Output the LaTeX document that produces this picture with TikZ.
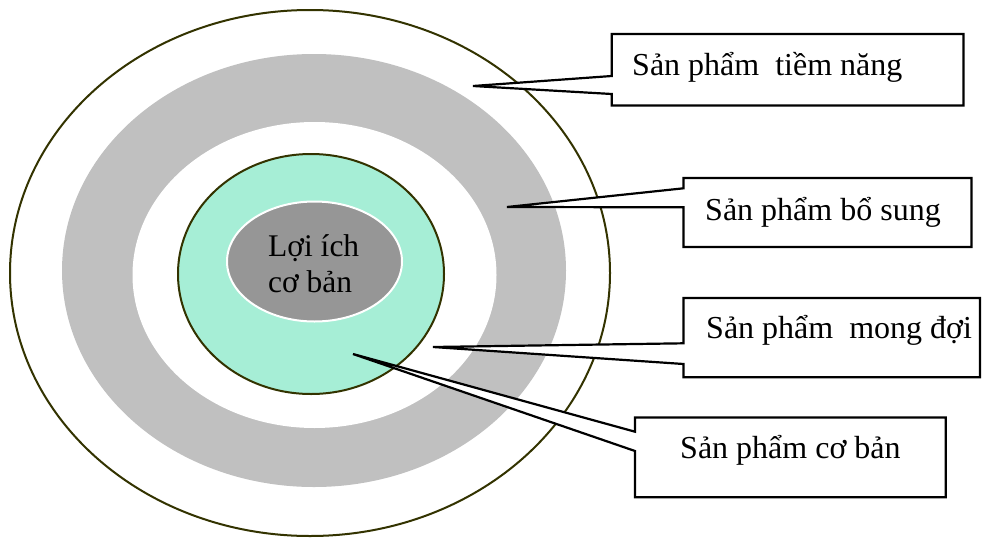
\documentclass[tikz,border=0pt]{standalone}
\usepackage{fontspec}
\setmainfont{Liberation Serif}
\definecolor{ringline}{RGB}{51,51,0}
\definecolor{ringgray}{RGB}{192,192,192}
\definecolor{mint}{RGB}{166,238,214}
\definecolor{coregray}{RGB}{150,150,150}
\begin{document}
\begin{tikzpicture}[x=1pt,y=-1pt,
  ring/.style={draw=ringline,line width=2pt},
  boxgeom/.style={inner sep=0pt,outer sep=0pt,rectangle},
  calloutline/.style={draw=black,fill=white,line width=2.2pt,line join=miter},
  lbl/.style={font=\fontsize{32}{36}\selectfont,inner sep=0pt,anchor=base west},
  corelbl/.style={font=\fontsize{31.5}{36}\selectfont,inner sep=0pt,anchor=base west}]
\useasboundingbox (0,0) rectangle (982,538);
% rings
\draw[ring,fill=white] (310,273) ellipse [x radius=300,y radius=263];
\fill[ringgray] (314,270.5) ellipse [x radius=252,y radius=216.5];
\fill[white] (314.5,275) ellipse [x radius=182,y radius=153];
\draw[ring,fill=mint] (311,274) ellipse [x radius=133,y radius=120];
\draw[draw=white,line width=2pt,fill=coregray] (314.5,261.5) ellipse [x radius=87.5,y radius=60];
\node[corelbl] (core1) at (268,256) {Lợi ích};
\node[corelbl] (core2) at (268,292.7) {cơ bản};
% callout geometry
\node[boxgeom,minimum width=351.8pt,minimum height=71.5pt] (b1) at (787.6,69.75) {};
\node[boxgeom,minimum width=288pt,minimum height=69pt] (b2) at (827.5,212.5) {};
\node[boxgeom,minimum width=296.5pt,minimum height=79.3pt] (b3) at (831.75,337.65) {};
\node[boxgeom,minimum width=310.7pt,minimum height=79.8pt] (b4) at (790.35,457.4) {};
\coordinate (t1) at (473,86);
\coordinate (t2) at (507,207);
\coordinate (t3) at (433,347);
\coordinate (t4) at (353,354);
% callouts
\path[calloutline] (b1.north west) -- (b1.north east) -- (b1.south east) -- (b1.south west)
  -- (b1.west |- 0,94) -- (t1) -- (b1.west |- 0,76) -- cycle;
\path[calloutline] (b2.north west) -- (b2.north east) -- (b2.south east) -- (b2.south west)
  -- (b2.west |- 0,207.3) -- (t2) -- (b2.west |- 0,188.3) -- cycle;
\path[calloutline] (b3.north west) -- (b3.north east) -- (b3.south east) -- (b3.south west)
  -- (b3.west |- 0,364) -- (t3) -- (b3.west |- 0,343.3) -- cycle;
\path[calloutline] (b4.north west) -- (b4.north east) -- (b4.south east) -- (b4.south west)
  -- (b4.west |- 0,451) -- (t4) -- (b4.west |- 0,431.7) -- cycle;
% labels
\node[lbl] (l1) at (632,75) {Sản phẩm\ \ tiềm năng};
\node[lbl] (l2) at (705,220) {Sản phẩm bổ sung};
\node[lbl] (l3) at (706,338) {Sản phẩm\ \ mong đợi};
\node[lbl] (l4) at (680,458) {Sản phẩm cơ bản};
\end{tikzpicture}
\end{document}
